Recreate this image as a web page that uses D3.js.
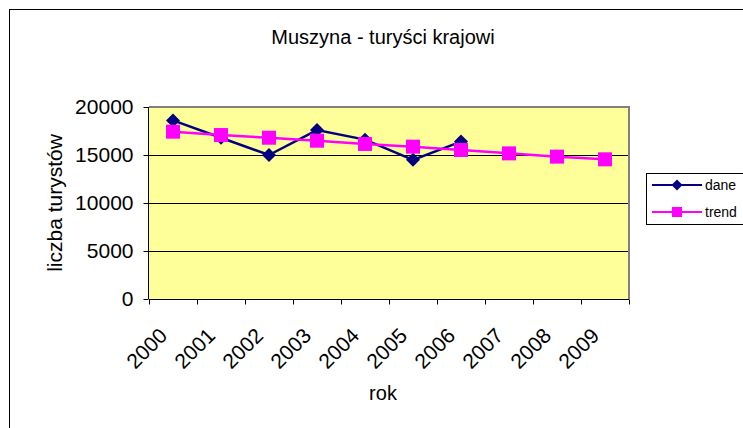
<!DOCTYPE html>
<html>
<head>
  <meta charset="UTF-8">
  <style>
    body { margin: 0; background: #fff; }
    text { font-family: "Liberation Sans", Arial, sans-serif; fill: #000; }
  </style>
</head>
<body>
<svg></svg>
<script src="https://d3js.org/d3.v7.min.js"></script>
<script>

let width = 743, height = 428;

// data
let years = ["2000", "2001", "2002", "2003", "2004", "2005", "2006", "2007", "2008", "2009"];
let dane = [18600, 16800, 15000, 17600, 16600, 14500, 16400];
let trend = [17430, 17080, 16800, 16490, 16150, 15870, 15520, 15170, 14830, 14550];
let yTicks = [0, 5000, 10000, 15000, 20000];

let svg = d3.select("svg")
    .attr("width", width)
    .attr("height", height);

// outer frame
svg.append("rect")
    .attr("x", 9.5).attr("y", 9.5)
    .attr("width", 760).attr("height", 440)
    .attr("fill", "white")
    .attr("stroke", "black");

let plot = {left: 149, right: 629, top: 107, bottom: 299};

let x = d3.scaleBand().domain(years).range([plot.left, plot.right]);
let y = d3.scaleLinear().domain([0, 20000]).range([plot.bottom, plot.top]);

let diamond = r => `M0,${-r}L${r},0L0,${r}L${-r},0Z`;

// plot background
svg.append("rect")
    .attr("x", plot.left).attr("y", plot.top)
    .attr("width", plot.right - plot.left).attr("height", plot.bottom - plot.top)
    .attr("fill", "#ffff99");

// gridlines
svg.append("g")
    .selectAll("line")
    .data(yTicks.filter(d => d > 0 && d < 20000))
    .enter()
    .append("line")
    .attr("x1", plot.left).attr("x2", plot.right)
    .attr("y1", d => Math.round(y(d)) + 0.5).attr("y2", d => Math.round(y(d)) + 0.5)
    .attr("stroke", "black");

// grey top/right border
svg.append("path")
    .attr("d", `M${plot.left},${plot.top} H${plot.right} V${plot.bottom}`)
    .attr("fill", "none")
    .attr("stroke", "#808080")
    .attr("stroke-width", 2);

// y axis
let yAxis = svg.append("g")
    .attr("transform", `translate(${plot.left - 0.5},0)`)
    .call(d3.axisLeft(y).tickValues(yTicks).tickSize(5).tickPadding(10).tickFormat(d3.format("d")));
yAxis.select(".domain").attr("stroke", "black").attr("d", `M0,${plot.top}V${plot.bottom}`);
yAxis.selectAll("text").style("font-size", "21px").attr("font-family", null);

// x axis with ticks at band boundaries
let xAxis = svg.append("g")
    .attr("transform", `translate(0,${plot.bottom + 0.5})`);
xAxis.append("line")
    .attr("x1", plot.left).attr("x2", plot.right)
    .attr("stroke", "black");
xAxis.selectAll(".tk")
    .data(years.concat(["end"]))
    .enter()
    .append("line")
    .attr("x1", (d, i) => plot.left + i * x.step() + 0.5)
    .attr("x2", (d, i) => plot.left + i * x.step() + 0.5)
    .attr("y1", 0).attr("y2", 5)
    .attr("stroke", "black");
xAxis.selectAll("text")
    .data(years)
    .enter()
    .append("text")
    .attr("transform", d => `translate(${x(d) + x.bandwidth() / 2 - 15},${27}) rotate(-45)`)
    .attr("text-anchor", "end")
    .attr("dy", "0.7em")
    .style("font-size", "21px")
    .text(d => d);

// series
let cx = d => x(d) + x.bandwidth() / 2;

let daneLine = d3.line().x((d, i) => cx(years[i])).y(d => y(d));
svg.append("path")
    .datum(dane)
    .attr("d", daneLine)
    .attr("fill", "none")
    .attr("stroke", "#000080")
    .attr("stroke-width", 2.5);

svg.append("g")
    .selectAll("path")
    .data(dane)
    .enter()
    .append("path")
    .attr("d", diamond(7))
    .attr("transform", (d, i) => `translate(${cx(years[i])},${y(d)})`)
    .attr("fill", "#000080");

let trendLine = d3.line().x((d, i) => cx(years[i])).y(d => y(d));
svg.append("path")
    .datum(trend)
    .attr("d", trendLine)
    .attr("fill", "none")
    .attr("stroke", "#ff00ff")
    .attr("stroke-width", 2.5);

svg.append("g")
    .selectAll("rect")
    .data(trend)
    .enter()
    .append("rect")
    .attr("x", (d, i) => cx(years[i]) - 7)
    .attr("y", d => y(d) - 7)
    .attr("width", 14).attr("height", 14)
    .attr("fill", "#ff00ff");

// title and axis labels
svg.append("text")
    .attr("x", 383).attr("y", 44)
    .attr("text-anchor", "middle")
    .style("font-size", "20px")
    .text("Muszyna - turyści krajowi");

svg.append("text")
    .attr("transform", "translate(62,203) rotate(-90)")
    .attr("text-anchor", "middle")
    .style("font-size", "21px")
    .text("liczba turystów");

svg.append("text")
    .attr("x", 383).attr("y", 400)
    .attr("text-anchor", "middle")
    .style("font-size", "20px")
    .text("rok");

// legend
let legend = svg.append("g");
legend.append("rect")
    .attr("x", 646.5).attr("y", 173.5)
    .attr("width", 120).attr("height", 51)
    .attr("fill", "white")
    .attr("stroke", "black");

let legItems = [
  {name: "dane", color: "#000080", shape: "diamond"},
  {name: "trend", color: "#ff00ff", shape: "square"}
];

legItems.forEach((it, i) => {
  let ly = 185 + i * 27;
  legend.append("line")
    .attr("x1", 652).attr("x2", 702)
    .attr("y1", ly).attr("y2", ly)
    .attr("stroke", it.color)
    .attr("stroke-width", 2);
  if (it.shape == "diamond") {
    legend.append("path")
      .attr("d", diamond(5.5))
      .attr("transform", `translate(677,${ly})`)
      .attr("fill", it.color);
  } else {
    legend.append("rect")
      .attr("x", 672).attr("y", ly - 5)
      .attr("width", 10).attr("height", 10)
      .attr("fill", it.color);
  }
  legend.append("text")
    .attr("x", 705).attr("y", ly + 5)
    .style("font-size", "14px")
    .text(it.name);
});

</script>
</body>
</html>
